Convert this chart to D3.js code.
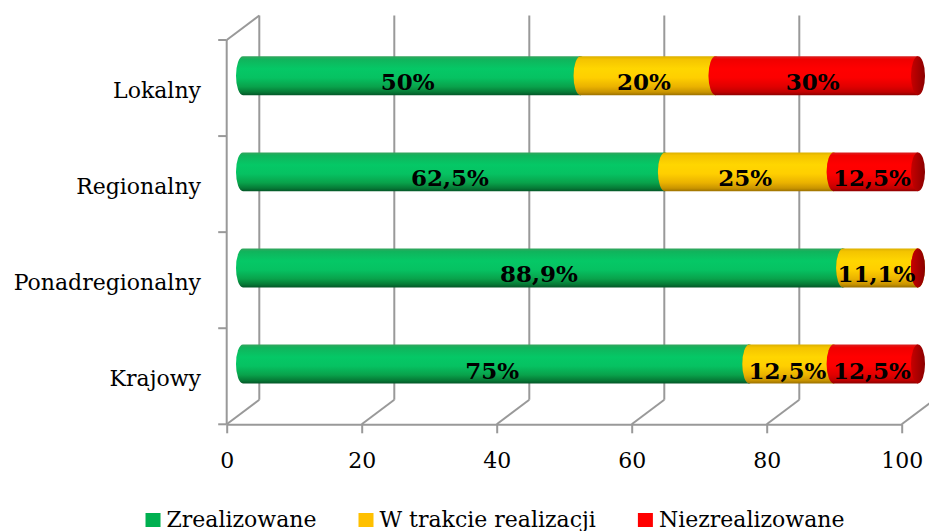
<!DOCTYPE html>
<html>
<head>
<meta charset="utf-8">
<script src="https://cdn.jsdelivr.net/npm/d3@7/dist/d3.min.js"></script>
<style>
  html, body { margin: 0; padding: 0; background: #fff; }
  svg { display: block; font-family: "DejaVu Serif", serif; }
</style>
</head>
<body>
<svg id="chart" width="929" height="531"></svg>
<script>
// Project status by scope (percent of projects)
const categories = ["Lokalny", "Regionalny", "Ponadregionalny", "Krajowy"];
const zrealizowane = [50, 62.5, 88.9, 75];
const wTrakcie = [20, 25, 11.1, 12.5];
const niezrealizowane = [30, 12.5, 0, 12.5];
const seriesNames = ["Zrealizowane", "W trakcie realizacji", "Niezrealizowane"];
const xTicks = [0, 20, 40, 60, 80, 100];

const svg = d3.select("#chart");

// 3D box geometry: front plane and depth offset of the back wall
const depthX = 32.6, depthY = -24.5;
const x = d3.scaleLinear().domain([0, 100]).range([226.7, 901.7]);
const y = d3.scaleBand().domain(categories).range([40, 424.3]).padding(0);
const floorY = 424.3, topY = 40;

const gridColor = "#999999";
const gridWidth = 2;
const defs = svg.append("defs");

// cylinder shading per series
const palettes = [
  { id: "g", stops: ["#35a45e", "#10b45c", "#05c866", "#06c262", "#09a24b", "#067a36", "#045628"], cap: ["#0a9a48", "#067a36"] },
  { id: "y", stops: ["#dcb000", "#f4c400", "#ffd600", "#ffcf00", "#eab200", "#c99400", "#9a7000"], cap: ["#e0b000", "#b08000"] },
  { id: "r", stops: ["#d82020", "#f00000", "#ff0000", "#fc0000", "#e00000", "#c00000", "#8c0000"], cap: ["#c80000", "#8a0000"] }
];
const offs = [0, 0.08, 0.32, 0.55, 0.78, 0.92, 1];
palettes.forEach(p => {
  const lg = defs.append("linearGradient").attr("id", "body-" + p.id)
    .attr("x1", 0).attr("y1", 0).attr("x2", 0).attr("y2", 1);
  p.stops.forEach((c, i) => lg.append("stop").attr("offset", offs[i]).attr("stop-color", c));
  const cg = defs.append("linearGradient").attr("id", "cap-" + p.id)
    .attr("x1", 0).attr("y1", 0).attr("x2", 1).attr("y2", 0);
  cg.append("stop").attr("offset", 0).attr("stop-color", p.cap[0]);
  cg.append("stop").attr("offset", 1).attr("stop-color", p.cap[1]);
});

// ---- walls and floor ----
const grid = svg.append("g").attr("stroke", gridColor).attr("stroke-width", gridWidth).attr("fill", "none");
xTicks.forEach(v => {
  // back wall vertical gridlines
  grid.append("line")
    .attr("x1", x(v) + depthX).attr("x2", x(v) + depthX)
    .attr("y1", topY + depthY).attr("y2", floorY + depthY);
  // floor diagonals
  grid.append("line")
    .attr("x1", x(v)).attr("y1", floorY)
    .attr("x2", x(v) + depthX).attr("y2", floorY + depthY);
});
// left wall
grid.append("line").attr("x1", x(0)).attr("x2", x(0)).attr("y1", topY).attr("y2", floorY);
grid.append("line").attr("x1", x(0)).attr("y1", topY).attr("x2", x(0) + depthX).attr("y2", topY + depthY);
// category tick marks on the left wall
const bounds = categories.map(c => y(c)).concat([floorY]);
bounds.forEach(b => {
  grid.append("line").attr("x1", x(0) - 8.5).attr("x2", x(0)).attr("y1", b).attr("y2", b);
});

// x axis along the front edge of the floor
const xAxis = d3.axisBottom(x).tickValues(xTicks).tickSize(9).tickSizeOuter(0).tickPadding(19.5);
const ax = svg.append("g").attr("transform", `translate(0,${floorY})`).call(xAxis);
ax.select(".domain").attr("stroke", gridColor).attr("stroke-width", gridWidth);
ax.selectAll(".tick line").attr("stroke", gridColor).attr("stroke-width", gridWidth);
ax.selectAll(".tick text")
  .attr("fill", "#000").attr("font-size", 22)
  .attr("font-family", "DejaVu Serif");

// category labels
svg.append("g").selectAll("text").data(categories).join("text")
  .attr("x", 201)
  .attr("y", d => y(d) + y.bandwidth() / 2 + 9.5)
  .attr("text-anchor", "end")
  .attr("font-size", 22)
  .attr("fill", "#000")
  .text(d => d);

// ---- stacked cylinders ----
const values = [zrealizowane, wTrakcie, niezrealizowane];
const barH = y.bandwidth() * 0.405;
const rx = 7;
const xm = v => x(v) + depthX / 2;

const bars = svg.append("g");
const labelsG = svg.append("g");
categories.forEach((cat, ci) => {
  const cy = y(cat) + y.bandwidth() / 2 + depthY / 2;
  const top = cy - barH / 2, bot = cy + barH / 2, ry = barH / 2;
  let acc = 0;
  values.forEach((series, si) => {
    const v = series[ci];
    const x0 = xm(acc), x1 = xm(acc + v);
    const p = palettes[si];
    const g = bars.append("g");
    // body with rounded left silhouette
    g.append("path")
      .attr("d", `M${x0},${top} L${x1},${top} L${x1},${bot} L${x0},${bot} A${rx},${ry} 0 0 1 ${x0},${top} Z`)
      .attr("fill", `url(#body-${p.id})`);
    // visible end face on the right
    g.append("ellipse")
      .attr("cx", x1).attr("cy", cy).attr("rx", rx).attr("ry", ry)
      .attr("fill", `url(#cap-${p.id})`);
    if (v > 0) {
      labelsG.append("text")
        .attr("x", (x0 + x1) / 2 - 4)
        .attr("y", cy + 14.5)
        .attr("text-anchor", "middle")
        .attr("font-size", 23)
        .attr("font-weight", "bold")
        .attr("fill", "#000")
        .text(String(v).replace(".", ",") + "%");
    }
    acc += v;
  });
});

// ---- legend ----
const legendColors = ["#00b050", "#ffc000", "#ff0000"];
const lg = svg.append("g");
const items = lg.selectAll("g").data(seriesNames).join("g");
items.append("rect").attr("width", 15).attr("height", 14).attr("y", 513)
  .attr("fill", (d, i) => legendColors[i]);
items.append("text").attr("x", 21).attr("y", 527)
  .attr("font-size", 22).attr("fill", "#000").text(d => d);
const widths = [];
items.each(function () { widths.push(21 + this.querySelector("text").getComputedTextLength()); });
const gap = 42;
const total = d3.sum(widths) + gap * (widths.length - 1);
let lx = 495 - total / 2;
items.attr("transform", (d, i) => {
  const t = `translate(${lx},0)`;
  lx += widths[i] + gap;
  return t;
});
</script>
</body>
</html>
